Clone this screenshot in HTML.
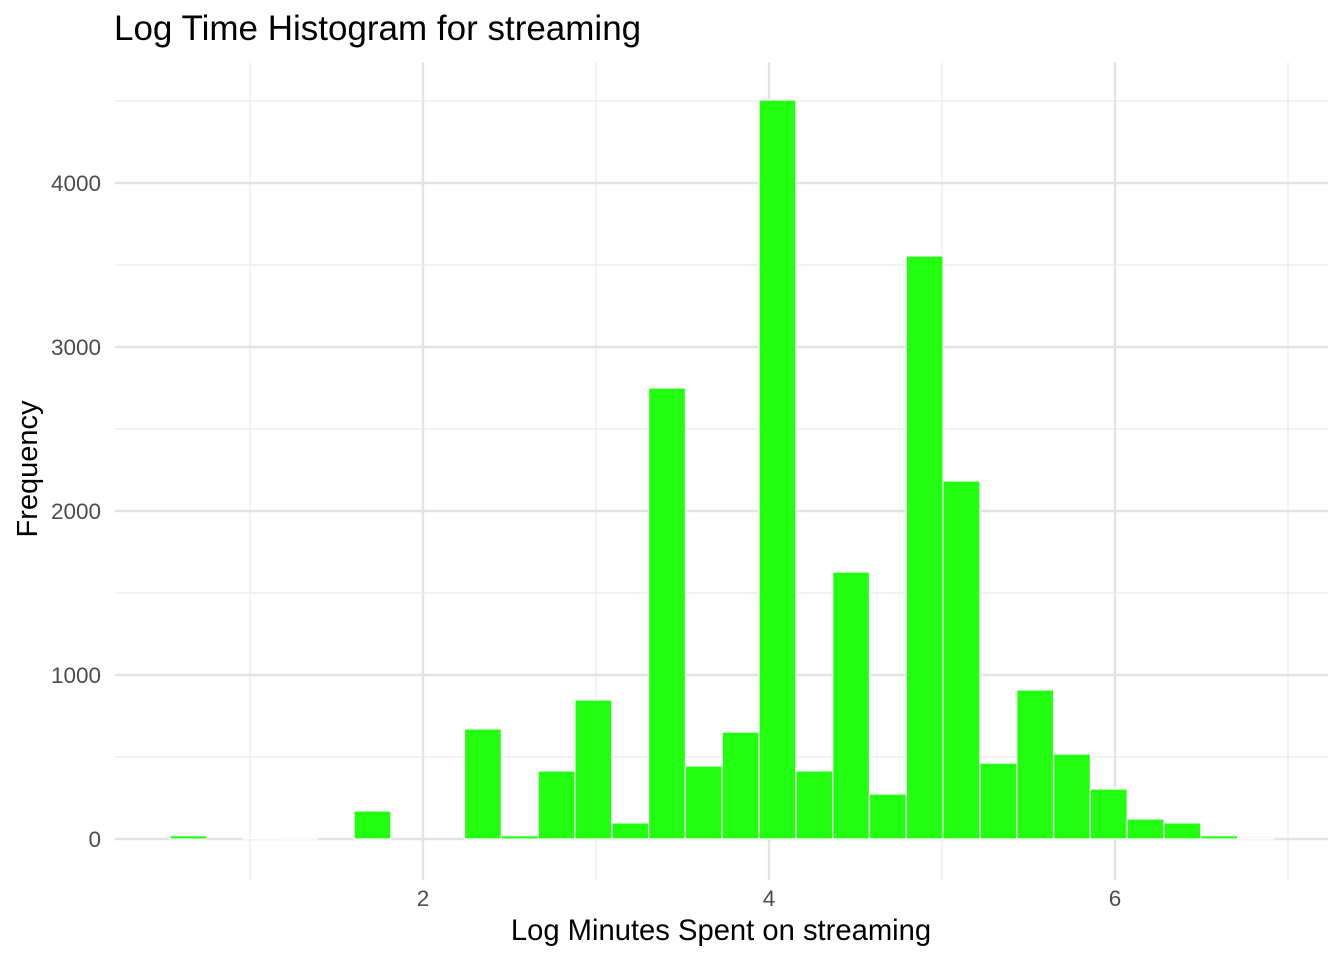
<!DOCTYPE html>
<html><head><meta charset="utf-8"><style>
body{margin:0;background:#fff;font-family:"Liberation Sans",Arial,sans-serif}
svg{display:block}
</style></head><body>
<svg id="chart" width="1344" height="960" xmlns="http://www.w3.org/2000/svg">
<text x="114" y="40" font-size="35" fill="#000">Log Time Histogram for streaming</text>
<text x="721" y="940" font-size="29.2" text-anchor="middle" fill="#000">Log Minutes Spent on streaming</text>
<text transform="translate(37,469) rotate(-90)" font-size="29" text-anchor="middle" fill="#000">Frequency</text>
<g id="grid"></g><g id="bars"></g><g id="ticks"></g>
</svg>
<script>
const counts=[20,0,5,2,0,171,0,0,671,20,415,848,98,2750,445,652,4506,415,1628,274,3555,2183,463,909,518,305,122,98,20,3];
const binStart=0.5376, binWidth=0.2128;
const xTicks=[2,4,6], xMinor=[1,3,5,7];
const yTicks=[0,1000,2000,3000,4000], yMinor=[500,1500,2500,3500,4500];
const X=v=>423+(v-2)*173, Y=v=>839-v*0.164;
const ns="http://www.w3.org/2000/svg";
function mk(t,a,p){const e=document.createElementNS(ns,t);for(const k in a)e.setAttribute(k,a[k]);p.appendChild(e);return e;}
const g=document.getElementById('grid'),b=document.getElementById('bars'),tk=document.getElementById('ticks');
yMinor.forEach(v=>{const l=mk('line',{x1:115,x2:1328,y1:Y(v),y2:Y(v),stroke:'#ebebeb','stroke-width':1.2},g);

});
xMinor.forEach(v=>{const l=mk('line',{x1:X(v),x2:X(v),y1:62,y2:880,stroke:'#ebebeb','stroke-width':1.2},g);

});
yTicks.forEach(v=>{const l=mk('line',{x1:115,x2:1328,y1:Y(v),y2:Y(v),stroke:'#e3e3e3','stroke-width':2.4},g);


const t=mk('text',{x:101,y:Y(v)+8,'font-size':22.5,'text-anchor':'end',fill:'#4d4d4d'},tk);t.textContent=v;

});
xTicks.forEach(v=>{const l=mk('line',{x1:X(v),x2:X(v),y1:62,y2:880,stroke:'#e3e3e3','stroke-width':2.4},g);


const t=mk('text',{x:X(v),y:906,'font-size':22.5,'text-anchor':'middle',fill:'#4d4d4d'},tk);t.textContent=v;

});
counts.forEach((c,i)=>{const x0=X(binStart+i*binWidth),x1=X(binStart+(i+1)*binWidth);
const r=mk('rect',{x:x0,y:Y(c),width:x1-x0,height:Math.max(0,Y(0)-Y(c)),fill:'#22ff10',stroke:'#fff','stroke-width':1.2},b);

});
</script>
</body></html>
